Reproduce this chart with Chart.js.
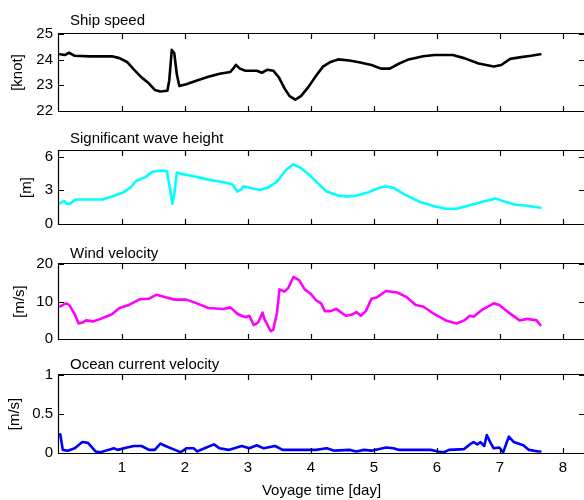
<!DOCTYPE html>
<html><head><meta charset="utf-8">
<script src="https://cdn.jsdelivr.net/npm/chart.js@4.4.1/dist/chart.umd.min.js"></script>
<style>
html,body{margin:0;padding:0;background:#fff;}
#wrap{position:relative;width:584px;height:500px;overflow:hidden;background:#fff;}
canvas{position:absolute;left:0;}
</style></head><body>
<div id="wrap">
<canvas id="c0" width="584" height="122" style="top:4px"></canvas>
<canvas id="c1" width="584" height="113" style="top:126px"></canvas>
<canvas id="c2" width="584" height="115" style="top:239px"></canvas>
<canvas id="c3" width="584" height="146" style="top:354px"></canvas>
</div>
<script>
// ---------- data ----------
const xTicks = [1, 2, 3, 4, 5, 6, 7, 8];
const xAxisTitle = 'Voyage time [day]';
const panelTitles = ['Ship speed', 'Significant wave height', 'Wind velocity', 'Ocean current velocity'];
const yUnits = ['[knot]', '[m]', '[m/s]', '[m/s]'];

const speedTicks = [22, 23, 24, 25];
const waveTicks = [0, 3, 6];
const windTicks = [0, 10, 20];
const currentTicks = [0, 0.5, 1];

const speedDays = [0.02,0.09,0.16,0.25,0.49,0.84,0.96,1.08,1.19,1.31,1.43,1.52,1.61,1.72,1.75,1.79,1.83,1.87,1.91,2.02,2.19,2.37,2.55,2.72,2.77,2.81,2.87,2.96,3.14,3.22,3.31,3.40,3.49,3.58,3.66,3.75,3.84,3.96,4.08,4.19,4.31,4.43,4.61,4.78,4.96,5.11,5.25,5.40,5.55,5.78,5.96,6.25,6.43,6.66,6.90,7.02,7.16,7.31,7.49,7.64];
const speedValues = [24.21,24.18,24.27,24.15,24.13,24.13,24.06,23.91,23.61,23.31,23.07,22.82,22.76,22.79,23.19,24.38,24.25,23.43,22.97,23.04,23.19,23.33,23.45,23.52,23.67,23.80,23.65,23.57,23.57,23.49,23.61,23.57,23.31,22.88,22.58,22.44,22.58,22.94,23.37,23.73,23.91,24.01,23.97,23.89,23.79,23.65,23.65,23.85,24.01,24.13,24.18,24.18,24.06,23.85,23.73,23.79,24.03,24.09,24.15,24.21];

const waveDays = [0.02,0.08,0.12,0.18,0.24,0.28,0.49,0.69,0.84,1.02,1.14,1.22,1.37,1.49,1.61,1.71,1.75,1.80,1.83,1.87,1.96,2.14,2.37,2.61,2.75,2.79,2.83,2.89,2.93,3.02,3.19,3.31,3.46,3.61,3.72,3.84,3.96,4.11,4.25,4.43,4.58,4.72,4.90,5.08,5.19,5.31,5.49,5.72,5.96,6.14,6.31,6.49,6.72,6.93,7.08,7.25,7.43,7.64];
const waveValues = [1.85,2.07,1.80,1.80,2.12,2.18,2.18,2.18,2.45,2.81,3.27,3.81,4.17,4.66,4.77,4.71,3.49,1.80,2.67,4.58,4.44,4.25,3.95,3.71,3.54,3.22,2.89,3.08,3.35,3.22,3.02,3.22,3.76,4.85,5.31,4.99,4.44,3.62,2.89,2.53,2.45,2.53,2.81,3.22,3.35,3.22,2.62,1.99,1.58,1.36,1.36,1.63,1.99,2.26,1.99,1.72,1.63,1.44];

const windDays = [0.02,0.11,0.16,0.25,0.31,0.37,0.43,0.55,0.66,0.84,0.96,1.11,1.28,1.43,1.55,1.69,1.84,2.02,2.19,2.37,2.61,2.72,2.84,2.96,3.02,3.09,3.16,3.23,3.26,3.36,3.40,3.46,3.50,3.58,3.64,3.72,3.81,3.90,3.99,4.08,4.16,4.22,4.31,4.40,4.55,4.64,4.72,4.79,4.87,4.96,5.05,5.19,5.37,5.52,5.66,5.78,5.96,6.14,6.31,6.43,6.52,6.58,6.72,6.90,6.99,7.14,7.31,7.43,7.58,7.64];
const windValues = [8.68,9.50,9.09,6.61,4.13,4.38,4.96,4.71,5.37,6.61,8.26,9.09,10.58,10.74,11.82,11.16,10.50,10.50,9.50,8.26,8.02,8.43,6.61,5.79,6.20,3.72,4.38,7.02,5.37,2.07,2.48,7.02,13.22,12.64,13.64,16.53,15.70,13.22,12.15,10.33,9.50,7.44,7.44,8.02,6.20,6.45,7.19,6.20,7.44,10.74,11.16,12.81,12.40,11.16,9.09,8.68,6.61,4.96,4.13,4.96,6.20,5.95,7.85,9.50,9.09,7.02,4.96,5.37,4.96,3.72];

const currentDays = [0.02,0.06,0.14,0.25,0.37,0.46,0.58,0.66,0.78,0.87,0.93,1.08,1.19,1.31,1.43,1.52,1.61,1.69,1.84,1.93,2.02,2.14,2.19,2.31,2.46,2.55,2.69,2.90,3.02,3.14,3.25,3.43,3.55,3.78,4.08,4.25,4.37,4.61,4.72,4.84,4.96,5.19,5.31,5.40,5.66,5.90,6.02,6.11,6.19,6.43,6.52,6.58,6.64,6.69,6.75,6.79,6.85,6.90,6.99,7.05,7.14,7.22,7.37,7.46,7.61,7.64];
const currentValues = [0.24,0.04,0.03,0.06,0.14,0.13,0.02,0.01,0.04,0.06,0.04,0.07,0.09,0.09,0.04,0.04,0.12,0.09,0.04,0.01,0.06,0.06,0.02,0.06,0.11,0.06,0.04,0.09,0.06,0.10,0.06,0.09,0.04,0.04,0.04,0.06,0.03,0.04,0.02,0.04,0.03,0.07,0.06,0.04,0.04,0.04,0.02,0.01,0.04,0.05,0.11,0.14,0.11,0.14,0.09,0.23,0.13,0.06,0.07,0.01,0.21,0.14,0.10,0.04,0.02,0.02];

// ---------- layout / style ----------
const FONT = '"Liberation Sans", Arial, Helvetica, sans-serif';
const panels = [
  {days: speedDays, values: speedValues, ticks: speedTicks, min: 22, max: 25, color: '#000000',
   padTop: 30, padBottom: 10, xHeight: 0, titleRise: 9.5, unitPad: 9},
  {days: waveDays, values: waveValues, ticks: waveTicks, min: 0, max: 6.5, color: '#00FFFF',
   padTop: 25, padBottom: 10, xHeight: 0, titleRise: 8.5, unitPad: 17.5},
  {days: windDays, values: windValues, ticks: windTicks, min: 0, max: 20, color: '#FF00FF',
   padTop: 25, padBottom: 10, xHeight: 0, titleRise: 6, unitPad: 11},
  {days: currentDays, values: currentValues, ticks: currentTicks, min: 0, max: 1, color: '#0000FF',
   padTop: 21, padBottom: 0, xHeight: 47, titleRise: 6, unitPad: 6}
];

const matlabFrame = {
  id: 'matlabFrame',
  afterDatasetsDraw(chart, args, opts) {
    const {ctx, chartArea} = chart;
    const {left, right, top, bottom} = chartArea;
    const xs = chart.scales.x, ys = chart.scales.y;
    const L = 5;
    ctx.save();
    ctx.strokeStyle = '#000';
    ctx.lineWidth = 1.2;
    ctx.beginPath();
    ctx.moveTo(right + 2, top - 0.5); ctx.lineTo(left - 0.5, top - 0.5);
    ctx.lineTo(left - 0.5, bottom + 0.5); ctx.lineTo(right + 2, bottom + 0.5);
    xs.ticks.forEach(t => {
      const px = Math.round(xs.getPixelForValue(t.value)) + 0.5;
      ctx.moveTo(px, bottom); ctx.lineTo(px, bottom - L);
      ctx.moveTo(px, top); ctx.lineTo(px, top + L);
    });
    ys.ticks.forEach(t => {
      const py = Math.round(ys.getPixelForValue(t.value)) + 0.5;
      ctx.moveTo(left, py); ctx.lineTo(left + L, py);
      ctx.moveTo(right, py); ctx.lineTo(right - L, py);
    });
    ctx.stroke();
    ctx.fillStyle = '#000';
    ctx.font = '15px ' + FONT;
    ctx.textAlign = 'left';
    ctx.textBaseline = 'alphabetic';
    ctx.fillText(opts.text, left + 11, top - opts.rise);
    ctx.restore();
  }
};

panels.forEach((p, i) => {
  const isLast = i === panels.length - 1;
  const data = p.days.map((d, k) => ({x: d, y: p.values[k]}));
  new Chart(document.getElementById('c' + i), {
    type: 'line',
    data: {datasets: [{
      data: data, borderColor: p.color, borderWidth: 2.6, pointRadius: 0,
      tension: 0, borderJoinStyle: 'round', borderCapStyle: 'round', fill: false
    }]},
    options: {
      responsive: false, animation: false, devicePixelRatio: 1,
      layout: {padding: {left: 0, right: 0, top: p.padTop, bottom: p.padBottom}},
      plugins: {
        legend: {display: false}, tooltip: {enabled: false},
        matlabFrame: {text: panelTitles[i], rise: p.titleRise}
      },
      scales: {
        x: {
          type: 'linear', min: 0, max: 8.333,
          afterBuildTicks: s => { s.ticks = xTicks.map(v => ({value: v})); },
          afterFit: s => { s.height = p.xHeight; },
          grid: {display: false, drawTicks: false},
          border: {display: false},
          ticks: {display: isLast, color: '#000', padding: 6, font: {family: FONT, size: 15}, maxRotation: 0, autoSkip: false,
                  callback: v => String(v)},
          title: {display: isLast, text: xAxisTitle, color: '#000', font: {family: FONT, size: 15}, padding: {top: 0, bottom: 0}}
        },
        y: {
          type: 'linear', min: p.min, max: p.max,
          afterBuildTicks: s => { s.ticks = p.ticks.map(v => ({value: v})); },
          afterFit: s => { s.width = 59; },
          grid: {display: false, drawTicks: false},
          border: {display: false},
          ticks: {color: '#000', padding: 6, font: {family: FONT, size: 15}, autoSkip: false,
                  callback: v => String(v)},
          title: {display: true, text: yUnits[i], color: '#000', font: {family: FONT, size: 15}, padding: {top: p.unitPad, bottom: 0}}
        }
      }
    },
    plugins: [matlabFrame]
  });
});
</script>
</body></html>
